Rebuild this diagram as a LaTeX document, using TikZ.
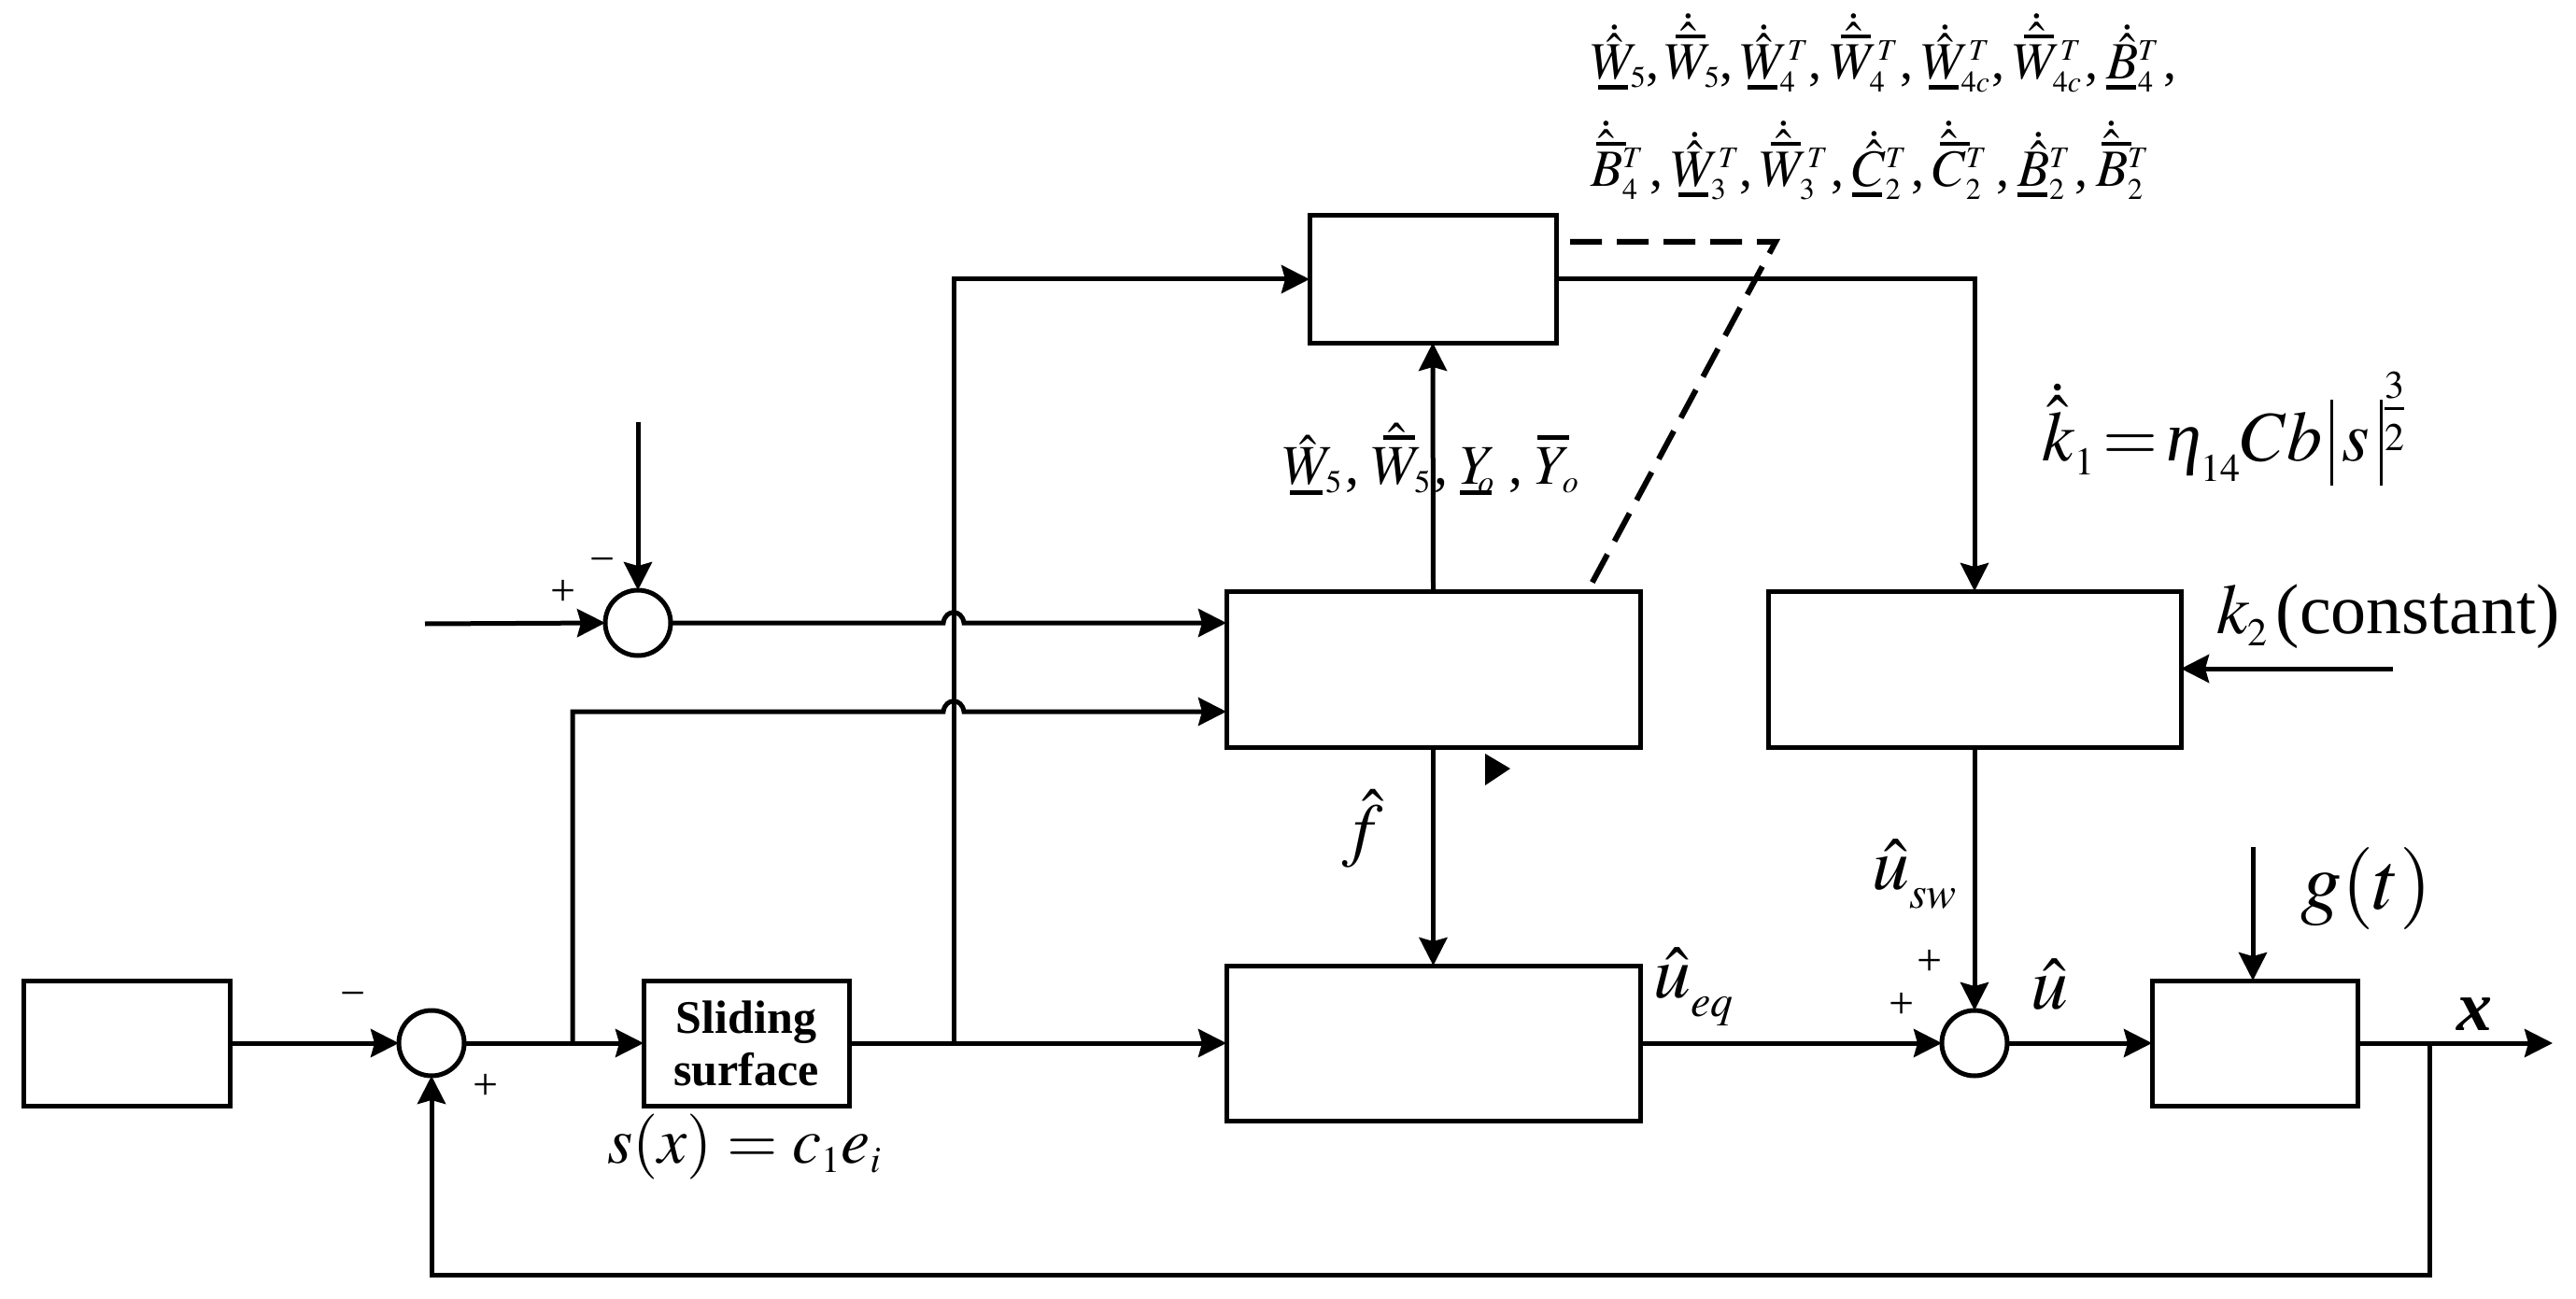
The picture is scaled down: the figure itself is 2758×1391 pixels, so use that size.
\documentclass[tikz,border=0pt]{standalone}
\usepackage{amsmath}
\usepackage{mathptmx}
\usepackage[no-math]{fontspec}
\setmainfont{Liberation Serif}
\usetikzlibrary{arrows.meta,calc}
\DeclareMathSizes{28}{28}{16}{12}
\DeclareMathSizes{30}{30}{17}{12}
\DeclareMathSizes{35}{35}{20}{14}
\DeclareMathSizes{38}{38}{21}{15}
\DeclareMathSizes{40}{40}{24}{16}
\DeclareMathSizes{44}{44}{24}{16}
\newcommand\fsz[1]{\fontsize{#1}{#1}\selectfont}
\newcommand\ubar[1][.14em]{\mbox{\rlap{\kern#1\rule[-.2em]{.57em}{.085em}}}}
\newcommand\ovb[2][.22em]{{\mbox{\rlap{\kern#1\rule[.78em]{.57em}{.085em}}}#2}}
\newcommand\dothat[1]{\mathord{\smash{\dot{\hat{#1}}}}}
\newcommand\hatt[1]{\mathord{\smash{\hat{#1}}}}
\newcommand\cmk{4.5pt}
\newcommand\ks{\kern-4pt}
\newcommand\term[2]{\makebox[#1pt][l]{$#2$\hfill,\kern\cmk}}
\newcommand\lowsub[2]{\lower#1\hbox{$\scriptstyle #2$}}
\newcommand\absbar{\rule[-13.5pt]{1.4pt}{46pt}}
\tikzset{
  wire/.style={line width=2.5pt,line join=miter},
  flow/.style={wire,-{Stealth[length=15pt,width=15pt,inset=2pt]}},
  blk/.style={draw,line width=2.5pt,rectangle,inner sep=0pt,outer sep=0pt},
  sumj/.style={draw,line width=2.5pt,circle,minimum size=35pt,inner sep=0pt,outer sep=0pt},
  lbl/.style={inner sep=0pt,outer sep=0pt,anchor=base west},
  sign/.style={inner sep=0pt,outer sep=0pt,font=\fsz{24}},
  dash wire/.style={line width=3pt,dash pattern=on 17pt off 8pt},
  x=.5pt,y=-.5pt
}
\begin{document}
\begin{tikzpicture}
\useasboundingbox (0,0) rectangle (2758,1391);
% blocks
\node[blk,minimum width=132pt,minimum height=68pt] (top) at (1534,299) {};
\node[blk,minimum width=221.5pt,minimum height=83.5pt] (nn) at (1534.5,716.5) {};
\node[blk,minimum width=221.5pt,minimum height=83pt] (low) at (1534.5,1117) {};
\node[blk,minimum width=221pt,minimum height=83.5pt] (rb) at (2114,716.5) {};
\node[blk,minimum width=110.5pt,minimum height=67pt] (ref) at (135.5,1117) {};
\node[blk,minimum width=110pt,minimum height=67pt,align=center,font=\fsz{25}\bfseries,text depth=0pt] (slide) at (799,1117) {Sliding\\[3pt]surface};
\node[blk,minimum width=110pt,minimum height=67pt] (plant) at (2414,1117) {};
\node[sumj] (s1) at (683,667) {};
\node[sumj] (s2) at (462,1117) {};
\node[sumj] (s3) at (2114,1117) {};
% free ends and junctions
\coordinate (in1) at (455,668);
\coordinate (in2) at (683,452);
\coordinate (kin) at (2562,716);
\coordinate (gin) at (2412,907);
\coordinate (xout) at (2733,1117);
\coordinate (b1) at (613,1117);
\coordinate (b2) at (1021,1117);
\coordinate (b3) at (2601,1117);
\coordinate (fb) at (2601,1365);
\coordinate (corner) at (613,762);
\coordinate (hopAa) at (1010,667);
\coordinate (hopAb) at (1032,667);
\coordinate (hopBa) at (1010,762);
\coordinate (hopBb) at (1032,762);
\coordinate (dA) at (1681,259);
\coordinate (dB) at (1901,259);
\coordinate (dC) at (1703,627);
\coordinate (st1) at (1617,823);
\coordinate (st2) at (1590,807);
\coordinate (st3) at (1590,841);
% connectors
\draw[flow] (ref.east) -- (s2.west);
\draw[flow] (s2.east) -- (slide.west);
\draw[flow] (slide.east) -- (low.west);
\draw[flow] (low.east) -- (s3.west);
\draw[flow] (s3.east) -- (plant.west);
\draw[flow] (plant.east) -- (xout);
\draw[flow] (b3) -- (fb) -| (s2.south);
\draw[flow] (in1) -- (s1.west);
\draw[flow] (in2) -- (s1.north);
\draw[flow] (b2) |- (top.west);
\draw[flow] (s1.east) -- (hopAa) .. controls ($(hopAa)+(2,-15)$) and ($(hopAb)+(-2,-15)$) .. (hopAb) -- (hopAb -| nn.west);
\draw[flow] (b1) -- (corner) -- (hopBa) .. controls ($(hopBa)+(2,-15)$) and ($(hopBb)+(-2,-15)$) .. (hopBb) -- (hopBb -| nn.west);
\draw[flow] (nn.north) -- (top.south);
\draw[flow] (nn.south) -- (low.north);
\draw[flow] (top.east) -| (rb.north);
\draw[flow] (kin) -- (kin -| rb.east);
\draw[flow] (rb.south) -- (s3.north);
\draw[flow] (gin) -- (gin |- plant.north);
\draw[dash wire] (dA) -- (dB) -- (dC);
\fill (st1) -- (st2) -- (st3) -- cycle;
% labels
\node[lbl] (l1) at (1703,85) {\fsz{28}\term{39.5}{\ubar\dothat{W}_{\ks5}}\term{40.5}{\dothat{\ovb{W}}_{\ks5}}\term{48}{\ubar\dothat{W}_{\ks4}^T}\term{49}{\dothat{\ovb{W}}_{\ks4}^T}\term{49}{\ubar\dothat{W}_{\ks4c}^T}\term{50}{\dothat{\ovb{W}}_{\ks4c}^T}\term{42}{\ubar[0pt]\dothat{B}_4^T}};
\node[lbl] (l2) at (1703,200) {\fsz{28}\term{43}{\dothat{\ovb[.1em]{B}}_4^T}\term{47.5}{\ubar\dothat{W}_{\ks3}^T}\term{49.5}{\dothat{\ovb{W}}_{\ks3}^T}\term{43}{\ubar[0pt]\dothat{C}_2^T}\term{45.5}{\dothat{\ovb[.15em]{C}}_2^T}\term{42}{\ubar[0pt]\dothat{B}_2^T}$\dothat{\ovb[.1em]{B}}_2^T$};
\node[lbl] (l3) at (1373,518) {\fsz{30}\renewcommand\cmk{6.5pt}\term{47.5}{\ubar\hatt{W}_{\ks5}}\term{47.5}{\hatt{\ovb{W}}_{\ks5}}\term{40}{\ubar[0pt] Y_{\ks o}}$\mathord{\smash{\ovb[.05em]{Y}}}_{\ks o}$};
\node[lbl] (k1) at (2186,493) {\fsz{38}$\dothat{k}_{\lowsub{2pt}{1}}\!=\!\mbox{\itshape η}_{\lowsub{2pt}{14}}Cb\,\absbar\,\kern1pt s\,\kern1pt\absbar\raisebox{18.5pt}{$\genfrac{}{}{1.5pt}{1}{3}{2}$}$};
\node[lbl] (k2) at (2373,678) {\fsz{38}$k_{\lowsub{1pt}{2}}$\kern4pt(constant)};
\node[lbl] (fh) at (1437,913) {\fsz{38}$\hat{f}$};
\node[lbl] (usw) at (2004,952) {\fsz{40}$\hatt{u}_{\lowsub{4pt}{sw}}$};
\node[lbl] (ueq) at (1770,1068) {\fsz{40}$\hatt{u}_{\lowsub{4pt}{eq}}$};
\node[lbl] (uh) at (2174,1080) {\fsz{40}$\hat{u}$};
\node[lbl] (gt) at (2463,973) {\fsz{44}$g(t)$};
\node[lbl] (xl) at (2630,1103) {\fsz{38}\bfseries\itshape x};
\node[lbl] (sx) at (650,1245) {\fsz{35}$s(x)=c_1e_i$};
\node[sign] (p1) at (603,635) {+};
\node[sign] (m1) at (645,606) {\textminus};
\node[sign] (m2) at (378,1071) {\textminus};
\node[sign] (p2) at (520,1164) {+};
\node[sign] (p3) at (2066,1031) {+};
\node[sign] (p4) at (2036,1077) {+};
\end{tikzpicture}
\end{document}
